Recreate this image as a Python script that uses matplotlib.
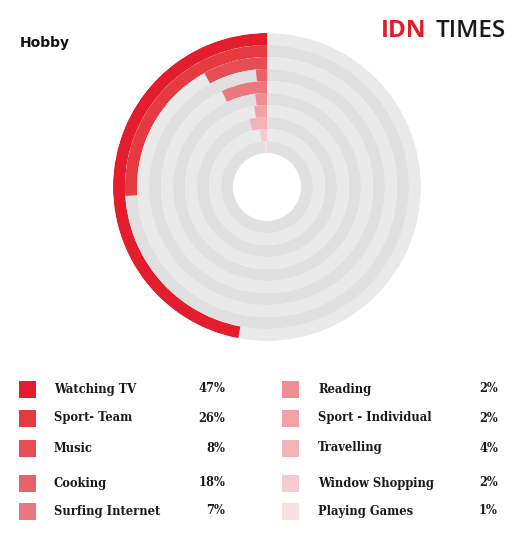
import numpy as np
import matplotlib.pyplot as plt

# legend data
hobbies = ["Watching TV", "Sport- Team", "Music", "Cooking", "Surfing Internet",
           "Reading", "Sport - Individual", "Travelling", "Window Shopping", "Playing Games"]
pct_text = [47, 26, 8, 18, 7, 2, 2, 4, 2, 1]
# arc lengths as drawn in the picture (Cooking ring is drawn much shorter than its label)
arc_pct = [47, 26, 8, 1.5, 7, 2, 2.5, 4, 2, 1]
colors = ["#e31d2b", "#e43a40", "#e54c53", "#e8626a", "#ec777e",
          "#ef8d92", "#f2a2a6", "#f4b2b5", "#f7cbcd", "#f9dfe0"]
grey_light = "#e9e9e9"
grey_dark = "#e0e0e0"

W, H = 528, 537
fig = plt.figure(figsize=(W / 100, H / 100), dpi=100)
fig.patch.set_facecolor("white")

# radial chart
cx, cy, R = 267, 187, 154
hole = 34 / 12.0
ax = fig.add_axes([(cx - R) / W, (H - cy - R) / H, 2 * R / W, 2 * R / H], projection="polar")
ax.set_theta_zero_location("N")
ax.set_theta_direction(1)
ax.set_ylim(0, hole + 10)
ax.axis("off")

n = len(hobbies)
for i in range(n):
    bottom = hole + (n - 1 - i)
    bg = grey_light if i % 2 == 0 else grey_dark
    ax.barh(bottom, 2 * np.pi, height=1, left=0, align="edge", color=bg, linewidth=0)
    ax.barh(bottom, arc_pct[i] / 100 * 2 * np.pi, height=1, left=0, align="edge",
            color=colors[i], linewidth=0)

# overlay for texts and legend in pixel coordinates
ov = fig.add_axes([0, 0, 1, 1], facecolor="none")
ov.set_xlim(0, W)
ov.set_ylim(H, 0)
ov.axis("off")

ov.text(20, 43, "Hobby", fontsize=10, fontweight="bold", family="DejaVu Sans",
        va="center", ha="left", color="#111111")
ov.text(381, 31, "IDN", fontsize=17.5, fontweight="bold", family="Open Sans",
        va="center", ha="left", color="#e31d2b")
ov.text(436, 31, "TIMES", fontsize=17.5, family="Open Sans", fontweight="semibold",
        va="center", ha="left", color="#1a1a1a")

rows_y = [389, 418, 448, 483, 511]
cols = [(19, 54, 225), (282, 318, 498)]
for i, name in enumerate(hobbies):
    sx, tx, px = cols[i // 5]
    y = rows_y[i % 5]
    ov.add_patch(plt.Rectangle((sx, y - 8.5), 17, 17, color=colors[i], linewidth=0))
    ov.text(tx, y, name, fontsize=8.3, fontweight="bold", family="DejaVu Serif",
            va="center", ha="left", color="#1a1a1a")
    ov.text(px, y, f"{pct_text[i]}%", fontsize=8.3, fontweight="bold", family="DejaVu Serif",
            va="center", ha="right", color="#1a1a1a")

fig.savefig("out.png", dpi=100, facecolor="white")
